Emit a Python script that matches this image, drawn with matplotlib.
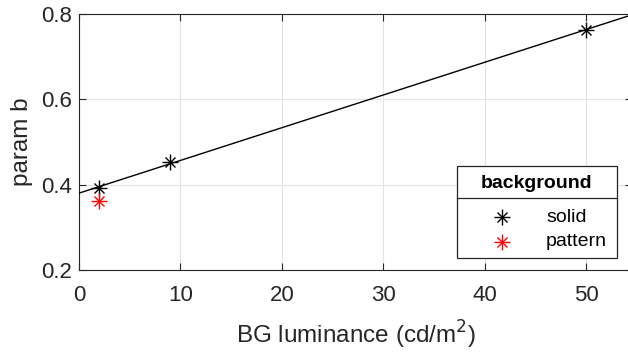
import numpy as np
import matplotlib
matplotlib.use("Agg")
import matplotlib.pyplot as plt
from matplotlib.lines import Line2D
from matplotlib.patches import Rectangle

# data
solid_lum = [2, 9, 50]
solid_b = [0.393, 0.452, 0.763]
pattern_lum = [2]
pattern_b = [0.362]

x_ticks = [0, 10, 20, 30, 40, 50]
y_ticks = [0.2, 0.4, 0.6, 0.8]

legend_title = 'background'
legend_labels = ['solid', 'pattern']
legend_colors = ['black', '#ff0000']

plt.rcParams['font.family'] = ['Liberation Sans', 'DejaVu Sans']
dark = '#262626'
W, H = 628, 352

fig = plt.figure(figsize=(W / 100, H / 100), dpi=100)
# right edge of the box falls just outside the image, as in the original
ax = fig.add_axes([79 / W, 1 - 270 / H, 553 / W, 256 / H])
xmax = 553 / (507 / 50)

# linear fit through the solid points
slope, icpt = np.polyfit(solid_lum, solid_b, 1)
xs = np.array([0, xmax])
ax.plot(xs, icpt + slope * xs, color='black', lw=1.0, zorder=3)


def asterisk(axis, x, y, color):
    axis.plot(x, y, ls='none', marker='+', ms=11, mew=1.0, color=color, zorder=4)
    axis.plot(x, y, ls='none', marker='x', ms=7.5, mew=1.0, color=color, zorder=4)


asterisk(ax, solid_lum, solid_b, 'black')
asterisk(ax, pattern_lum, pattern_b, '#ff0000')

ax.set_xlim(0, xmax)
ax.set_ylim(0.2, 0.8)
ax.set_xticks(x_ticks)
ax.set_yticks(y_ticks)
ax.set_yticklabels(['%.1f' % v for v in y_ticks])
ax.grid(True, color='#e3e3e3', lw=0.8)
ax.set_axisbelow(True)
ax.tick_params(direction='in', top=True, right=True, length=5, width=0.8,
               labelsize=16, colors=dark)
ax.tick_params(axis='x', pad=11)
ax.tick_params(axis='y', pad=5)
for s in ax.spines.values():
    s.set_color(dark)
    s.set_linewidth(0.8)

ax.set_xlabel('BG luminance (cd/m$^2$)', fontsize=17.5, color=dark, labelpad=9)
ax.set_ylabel('param b', fontsize=17.5, color=dark, labelpad=6)


# legend box drawn by hand (MATLAB style with a title row)
def fx(px):
    return px / W


def fy(py):
    return 1 - py / H


fig.add_artist(Rectangle((fx(457), fy(258)), fx(617) - fx(457), fy(166) - fy(258),
                         transform=fig.transFigure, facecolor='white',
                         edgecolor=dark, lw=0.9, zorder=5))
fig.add_artist(Line2D([fx(457), fx(617)], [fy(198), fy(198)], color=dark, lw=0.9, zorder=6))
fig.text(fx(537), fy(183), legend_title, ha='center', va='center', fontsize=14,
         fontweight='bold', color='black', zorder=6)
for i, (lab, col) in enumerate(zip(legend_labels, legend_colors)):
    yy = fy(217 + 25 * i)
    for m, ms in (('+', 11), ('x', 7.5)):
        fig.add_artist(Line2D([fx(502)], [yy], ls='none', marker=m, ms=ms, mew=1.0,
                              color=col, zorder=6))
    fig.text(fx(546), yy, lab, ha='left', va='center', fontsize=14, color='black', zorder=6)

fig.savefig('out.png', dpi=100)
